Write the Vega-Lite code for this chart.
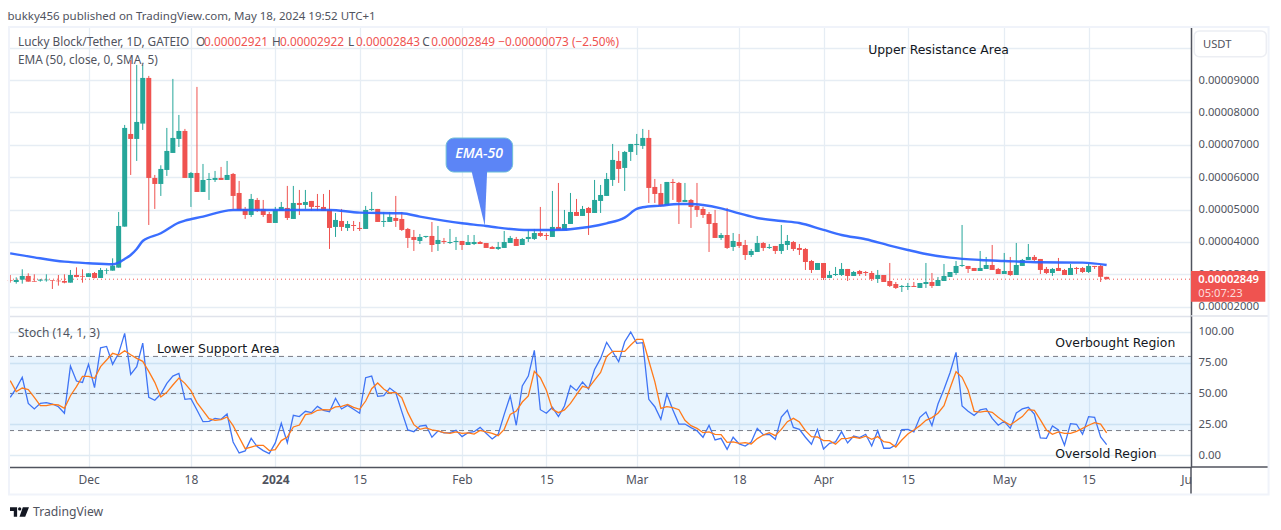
{
  "$schema": "https://vega.github.io/schema/vega-lite/v6.json",
  "background": "white",
  "padding": {"left": 5, "top": 11, "right": 0, "bottom": 4},
  "bounds": "flush",
  "spacing": 0,
  "config": {"view": {"stroke": null}, "font": "Noto Sans", "text": {"font": "Noto Sans"}},
  "datasets": {
    "candles": [
      {"d":"2023-11-18","o":2.825e-5,"h":2.979e-5,"l":2.742e-5,"c":2.804e-5,"k":46.9,"s":60.4},
      {"d":"2023-11-19","o":2.763e-5,"h":2.907e-5,"l":2.712e-5,"c":2.825e-5,"k":54.2,"s":51.5},
      {"d":"2023-11-20","o":2.835e-5,"h":3.155e-5,"l":2.712e-5,"c":2.949e-5,"k":63.1,"s":54.4},
      {"d":"2023-11-21","o":2.949e-5,"h":3.031e-5,"l":2.773e-5,"c":2.773e-5,"k":42.0,"s":53.1},
      {"d":"2023-11-22","o":2.794e-5,"h":3.0e-5,"l":2.773e-5,"c":2.773e-5,"k":37.5,"s":46.9},
      {"d":"2023-11-23","o":2.804e-5,"h":2.856e-5,"l":2.773e-5,"c":2.835e-5,"k":42.0,"s":40.2},
      {"d":"2023-11-24","o":2.815e-5,"h":3.0e-5,"l":2.773e-5,"c":2.835e-5,"k":42.6,"s":40.2},
      {"d":"2023-11-25","o":2.815e-5,"h":2.815e-5,"l":2.547e-5,"c":2.794e-5,"k":41.5,"s":41.2},
      {"d":"2023-11-26","o":2.804e-5,"h":2.979e-5,"l":2.65e-5,"c":2.784e-5,"k":39.3,"s":40.7},
      {"d":"2023-11-27","o":2.794e-5,"h":3.0e-5,"l":2.722e-5,"c":2.742e-5,"k":34.0,"s":38.0},
      {"d":"2023-11-28","o":2.742e-5,"h":3.134e-5,"l":2.742e-5,"c":2.979e-5,"k":72.2,"s":48.2},
      {"d":"2023-11-29","o":2.979e-5,"h":3.216e-5,"l":2.907e-5,"c":2.918e-5,"k":60.1,"s":55.5},
      {"d":"2023-11-30","o":2.949e-5,"h":3.155e-5,"l":2.742e-5,"c":2.928e-5,"k":59.0,"s":63.9},
      {"d":"2023-12-01","o":2.918e-5,"h":3.031e-5,"l":2.918e-5,"c":3.031e-5,"k":73.6,"s":63.9},
      {"d":"2023-12-02","o":3.041e-5,"h":3.072e-5,"l":2.876e-5,"c":2.887e-5,"k":54.7,"s":62.3},
      {"d":"2023-12-03","o":2.887e-5,"h":3.196e-5,"l":2.887e-5,"c":3.134e-5,"k":87.0,"s":71.7},
      {"d":"2023-12-04","o":3.113e-5,"h":3.185e-5,"l":3.01e-5,"c":3.134e-5,"k":88.1,"s":77.1},
      {"d":"2023-12-05","o":3.113e-5,"h":3.494e-5,"l":3.113e-5,"c":3.268e-5,"k":73.6,"s":82.5},
      {"d":"2023-12-06","o":3.206e-5,"h":4.926e-5,"l":3.206e-5,"c":4.494e-5,"k":82.5,"s":81.1},
      {"d":"2023-12-07","o":4.473e-5,"h":7.614e-5,"l":4.473e-5,"c":7.522e-5,"k":98.6,"s":84.6},
      {"d":"2023-12-08","o":7.336e-5,"h":9.62e-5,"l":6.069e-5,"c":7.182e-5,"k":65.5,"s":81.4},
      {"d":"2023-12-09","o":7.182e-5,"h":9.468e-5,"l":6.502e-5,"c":7.707e-5,"k":71.7,"s":78.4},
      {"d":"2023-12-10","o":7.656e-5,"h":9.468e-5,"l":7.46e-5,"c":9.067e-5,"k":90.8,"s":76.0},
      {"d":"2023-12-11","o":9.067e-5,"h":9.129e-5,"l":4.524e-5,"c":5.977e-5,"k":46.9,"s":67.9},
      {"d":"2023-12-12","o":5.977e-5,"h":6.069e-5,"l":5.019e-5,"c":5.791e-5,"k":44.5,"s":59.0},
      {"d":"2023-12-13","o":5.791e-5,"h":6.368e-5,"l":5.421e-5,"c":6.255e-5,"k":49.6,"s":47.2},
      {"d":"2023-12-14","o":6.224e-5,"h":7.522e-5,"l":6.039e-5,"c":6.811e-5,"k":58.2,"s":50.9},
      {"d":"2023-12-15","o":6.749e-5,"h":9.036e-5,"l":6.749e-5,"c":7.213e-5,"k":64.1,"s":56.9},
      {"d":"2023-12-16","o":7.182e-5,"h":7.923e-5,"l":6.935e-5,"c":7.429e-5,"k":66.3,"s":62.5},
      {"d":"2023-12-17","o":7.429e-5,"h":7.491e-5,"l":5.977e-5,"c":5.977e-5,"k":45.3,"s":58.2},
      {"d":"2023-12-18","o":5.977e-5,"h":6.162e-5,"l":5.081e-5,"c":6.131e-5,"k":45.8,"s":52.3},
      {"d":"2023-12-19","o":6.131e-5,"h":8.789e-5,"l":5.544e-5,"c":5.544e-5,"k":36.7,"s":42.6},
      {"d":"2023-12-20","o":5.544e-5,"h":6.409e-5,"l":5.544e-5,"c":5.915e-5,"k":27.2,"s":36.1},
      {"d":"2023-12-21","o":5.915e-5,"h":6.131e-5,"l":5.297e-5,"c":5.946e-5,"k":27.5,"s":29.6},
      {"d":"2023-12-22","o":5.915e-5,"h":6.193e-5,"l":5.853e-5,"c":5.977e-5,"k":29.9,"s":28.3},
      {"d":"2023-12-23","o":5.977e-5,"h":6.317e-5,"l":5.915e-5,"c":5.915e-5,"k":29.1,"s":28.8},
      {"d":"2023-12-24","o":5.915e-5,"h":6.502e-5,"l":5.915e-5,"c":6.069e-5,"k":33.4,"s":31.0},
      {"d":"2023-12-25","o":6.1e-5,"h":6.131e-5,"l":5.019e-5,"c":5.421e-5,"k":10.8,"s":24.0},
      {"d":"2023-12-26","o":5.513e-5,"h":5.884e-5,"l":4.988e-5,"c":4.988e-5,"k":1.9,"s":14.6},
      {"d":"2023-12-27","o":5.019e-5,"h":5.081e-5,"l":4.71e-5,"c":4.833e-5,"k":3.5,"s":5.4},
      {"d":"2023-12-28","o":4.833e-5,"h":5.482e-5,"l":4.772e-5,"c":5.328e-5,"k":13.7,"s":6.7},
      {"d":"2023-12-29","o":5.297e-5,"h":5.359e-5,"l":4.926e-5,"c":4.957e-5,"k":7.0,"s":8.1},
      {"d":"2023-12-30","o":5.019e-5,"h":5.297e-5,"l":4.772e-5,"c":4.833e-5,"k":3.8,"s":8.1},
      {"d":"2023-12-31","o":4.864e-5,"h":4.926e-5,"l":4.586e-5,"c":4.586e-5,"k":1.3,"s":3.8},
      {"d":"2024-01-01","o":4.586e-5,"h":5.081e-5,"l":4.586e-5,"c":4.988e-5,"k":10.0,"s":4.6},
      {"d":"2024-01-02","o":4.957e-5,"h":5.235e-5,"l":4.957e-5,"c":5.081e-5,"k":25.9,"s":11.9},
      {"d":"2024-01-03","o":5.05e-5,"h":5.73e-5,"l":4.679e-5,"c":4.741e-5,"k":10.2,"s":14.8},
      {"d":"2024-01-04","o":4.71e-5,"h":5.73e-5,"l":4.71e-5,"c":5.204e-5,"k":32.3,"s":22.9},
      {"d":"2024-01-05","o":5.204e-5,"h":5.606e-5,"l":4.833e-5,"c":5.142e-5,"k":31.3,"s":24.5},
      {"d":"2024-01-06","o":5.142e-5,"h":5.606e-5,"l":5.019e-5,"c":5.235e-5,"k":35.6,"s":32.9},
      {"d":"2024-01-07","o":5.266e-5,"h":5.266e-5,"l":4.957e-5,"c":5.081e-5,"k":34.5,"s":33.7},
      {"d":"2024-01-08","o":5.112e-5,"h":5.482e-5,"l":4.957e-5,"c":5.081e-5,"k":39.6,"s":36.4},
      {"d":"2024-01-09","o":5.081e-5,"h":5.482e-5,"l":4.957e-5,"c":4.957e-5,"k":36.4,"s":36.9},
      {"d":"2024-01-10","o":4.988e-5,"h":5.606e-5,"l":3.783e-5,"c":4.432e-5,"k":35.3,"s":36.7},
      {"d":"2024-01-11","o":4.463e-5,"h":4.895e-5,"l":4.154e-5,"c":4.679e-5,"k":46.1,"s":39.1},
      {"d":"2024-01-12","o":4.648e-5,"h":5.019e-5,"l":4.339e-5,"c":4.463e-5,"k":37.5,"s":39.6},
      {"d":"2024-01-13","o":4.432e-5,"h":4.648e-5,"l":4.339e-5,"c":4.555e-5,"k":40.4,"s":41.2},
      {"d":"2024-01-14","o":4.524e-5,"h":4.648e-5,"l":4.339e-5,"c":4.494e-5,"k":37.2,"s":38.8},
      {"d":"2024-01-15","o":4.432e-5,"h":4.617e-5,"l":4.339e-5,"c":4.401e-5,"k":34.0,"s":37.2},
      {"d":"2024-01-16","o":4.401e-5,"h":5.112e-5,"l":4.401e-5,"c":4.988e-5,"k":62.8,"s":43.9},
      {"d":"2024-01-17","o":4.988e-5,"h":5.544e-5,"l":4.957e-5,"c":5.019e-5,"k":64.1,"s":53.9},
      {"d":"2024-01-18","o":5.019e-5,"h":5.019e-5,"l":4.617e-5,"c":4.617e-5,"k":47.7,"s":58.5},
      {"d":"2024-01-19","o":4.617e-5,"h":4.926e-5,"l":4.463e-5,"c":4.648e-5,"k":48.2,"s":53.6},
      {"d":"2024-01-20","o":4.617e-5,"h":4.926e-5,"l":4.617e-5,"c":4.772e-5,"k":54.4,"s":50.4},
      {"d":"2024-01-21","o":4.741e-5,"h":5.421e-5,"l":4.463e-5,"c":4.648e-5,"k":50.7,"s":50.9},
      {"d":"2024-01-22","o":4.71e-5,"h":4.926e-5,"l":4.339e-5,"c":4.37e-5,"k":35.3,"s":46.6},
      {"d":"2024-01-23","o":4.401e-5,"h":4.432e-5,"l":3.814e-5,"c":4.123e-5,"k":20.5,"s":34.5},
      {"d":"2024-01-24","o":4.154e-5,"h":4.37e-5,"l":3.721e-5,"c":4.061e-5,"k":19.1,"s":24.8},
      {"d":"2024-01-25","o":4.03e-5,"h":4.246e-5,"l":3.937e-5,"c":4.154e-5,"k":23.7,"s":21.0},
      {"d":"2024-01-26","o":4.154e-5,"h":4.185e-5,"l":4.123e-5,"c":4.185e-5,"k":24.3,"s":22.1},
      {"d":"2024-01-27","o":4.185e-5,"h":4.617e-5,"l":3.69e-5,"c":3.906e-5,"k":14.6,"s":20.5},
      {"d":"2024-01-28","o":3.937e-5,"h":4.494e-5,"l":3.721e-5,"c":4.061e-5,"k":19.7,"s":19.7},
      {"d":"2024-01-29","o":4.03e-5,"h":4.123e-5,"l":3.937e-5,"c":3.999e-5,"k":18.1,"s":18.3},
      {"d":"2024-01-30","o":3.968e-5,"h":4.401e-5,"l":3.937e-5,"c":3.999e-5,"k":18.3,"s":17.8},
      {"d":"2024-01-31","o":3.999e-5,"h":4.154e-5,"l":3.752e-5,"c":4.03e-5,"k":20.2,"s":18.9},
      {"d":"2024-02-01","o":4.03e-5,"h":4.03e-5,"l":3.752e-5,"c":3.906e-5,"k":15.1,"s":17.8},
      {"d":"2024-02-02","o":3.906e-5,"h":4.215e-5,"l":3.906e-5,"c":3.999e-5,"k":18.3,"s":18.1},
      {"d":"2024-02-03","o":3.937e-5,"h":4.215e-5,"l":3.906e-5,"c":3.999e-5,"k":19.1,"s":17.2},
      {"d":"2024-02-04","o":3.999e-5,"h":4.03e-5,"l":3.937e-5,"c":3.937e-5,"k":22.6,"s":20.2},
      {"d":"2024-02-05","o":3.968e-5,"h":3.968e-5,"l":3.814e-5,"c":3.814e-5,"k":17.8,"s":18.9},
      {"d":"2024-02-06","o":3.845e-5,"h":3.876e-5,"l":3.783e-5,"c":3.783e-5,"k":13.2,"s":17.8},
      {"d":"2024-02-07","o":3.783e-5,"h":3.999e-5,"l":3.752e-5,"c":3.845e-5,"k":17.0,"s":15.9},
      {"d":"2024-02-08","o":3.814e-5,"h":4.339e-5,"l":3.814e-5,"c":3.999e-5,"k":33.1,"s":21.0},
      {"d":"2024-02-09","o":3.968e-5,"h":4.185e-5,"l":3.968e-5,"c":4.123e-5,"k":48.0,"s":33.1},
      {"d":"2024-02-10","o":4.092e-5,"h":4.154e-5,"l":3.876e-5,"c":3.876e-5,"k":24.3,"s":35.8},
      {"d":"2024-02-11","o":3.906e-5,"h":4.123e-5,"l":3.906e-5,"c":4.092e-5,"k":56.1,"s":43.1},
      {"d":"2024-02-12","o":4.092e-5,"h":4.37e-5,"l":3.999e-5,"c":4.154e-5,"k":64.1,"s":48.0},
      {"d":"2024-02-13","o":4.092e-5,"h":4.401e-5,"l":4.061e-5,"c":4.277e-5,"k":84.9,"s":67.9},
      {"d":"2024-02-14","o":4.277e-5,"h":5.081e-5,"l":4.154e-5,"c":4.185e-5,"k":36.9,"s":62.8},
      {"d":"2024-02-15","o":4.215e-5,"h":4.277e-5,"l":4.061e-5,"c":4.185e-5,"k":34.0,"s":52.6},
      {"d":"2024-02-16","o":4.154e-5,"h":5.575e-5,"l":4.154e-5,"c":4.463e-5,"k":38.8,"s":37.2},
      {"d":"2024-02-17","o":4.463e-5,"h":5.822e-5,"l":4.37e-5,"c":4.37e-5,"k":31.3,"s":34.5},
      {"d":"2024-02-18","o":4.37e-5,"h":4.988e-5,"l":4.37e-5,"c":4.555e-5,"k":39.9,"s":36.7},
      {"d":"2024-02-19","o":4.555e-5,"h":5.513e-5,"l":4.555e-5,"c":4.926e-5,"k":56.3,"s":42.0},
      {"d":"2024-02-20","o":4.926e-5,"h":5.328e-5,"l":4.803e-5,"c":4.803e-5,"k":52.3,"s":49.0},
      {"d":"2024-02-21","o":4.803e-5,"h":5.112e-5,"l":4.803e-5,"c":5.019e-5,"k":59.3,"s":55.8},
      {"d":"2024-02-22","o":5.05e-5,"h":5.081e-5,"l":4.215e-5,"c":4.895e-5,"k":53.6,"s":54.4},
      {"d":"2024-02-23","o":4.895e-5,"h":5.915e-5,"l":4.895e-5,"c":5.297e-5,"k":69.5,"s":60.9},
      {"d":"2024-02-24","o":5.266e-5,"h":5.76e-5,"l":4.895e-5,"c":5.451e-5,"k":78.4,"s":67.1},
      {"d":"2024-02-25","o":5.421e-5,"h":6.131e-5,"l":5.421e-5,"c":5.946e-5,"k":91.4,"s":80.0},
      {"d":"2024-02-26","o":5.915e-5,"h":7.027e-5,"l":5.73e-5,"c":6.533e-5,"k":83.8,"s":84.1},
      {"d":"2024-02-27","o":6.502e-5,"h":6.811e-5,"l":5.822e-5,"c":6.255e-5,"k":75.7,"s":84.1},
      {"d":"2024-02-28","o":6.286e-5,"h":6.811e-5,"l":5.575e-5,"c":6.78e-5,"k":91.9,"s":84.1},
      {"d":"2024-02-29","o":6.78e-5,"h":7.027e-5,"l":6.502e-5,"c":7.027e-5,"k":99.7,"s":89.2},
      {"d":"2024-03-01","o":6.996e-5,"h":7.336e-5,"l":6.687e-5,"c":7.027e-5,"k":90.6,"s":93.8},
      {"d":"2024-03-02","o":6.966e-5,"h":7.491e-5,"l":6.873e-5,"c":7.213e-5,"k":91.1,"s":93.8},
      {"d":"2024-03-03","o":7.213e-5,"h":7.46e-5,"l":5.204e-5,"c":5.668e-5,"k":45.3,"s":76.5},
      {"d":"2024-03-04","o":5.699e-5,"h":5.946e-5,"l":5.204e-5,"c":5.482e-5,"k":39.3,"s":59.6},
      {"d":"2024-03-05","o":5.513e-5,"h":5.791e-5,"l":5.081e-5,"c":5.112e-5,"k":29.1,"s":38.0},
      {"d":"2024-03-06","o":5.142e-5,"h":5.853e-5,"l":5.142e-5,"c":5.853e-5,"k":49.6,"s":39.3},
      {"d":"2024-03-07","o":5.853e-5,"h":5.946e-5,"l":5.297e-5,"c":5.822e-5,"k":36.7,"s":38.5},
      {"d":"2024-03-08","o":5.822e-5,"h":5.853e-5,"l":4.555e-5,"c":5.235e-5,"k":25.3,"s":36.9},
      {"d":"2024-03-09","o":5.235e-5,"h":5.822e-5,"l":5.235e-5,"c":5.297e-5,"k":25.3,"s":28.3},
      {"d":"2024-03-10","o":5.297e-5,"h":5.328e-5,"l":4.432e-5,"c":5.081e-5,"k":22.4,"s":24.0},
      {"d":"2024-03-11","o":5.112e-5,"h":5.822e-5,"l":4.772e-5,"c":4.988e-5,"k":19.9,"s":21.8},
      {"d":"2024-03-12","o":5.019e-5,"h":5.081e-5,"l":4.741e-5,"c":4.833e-5,"k":14.6,"s":18.3},
      {"d":"2024-03-13","o":4.864e-5,"h":4.926e-5,"l":3.69e-5,"c":4.555e-5,"k":24.3,"s":18.9},
      {"d":"2024-03-14","o":4.586e-5,"h":4.988e-5,"l":4.123e-5,"c":4.123e-5,"k":12.4,"s":17.0},
      {"d":"2024-03-15","o":4.123e-5,"h":4.277e-5,"l":4.061e-5,"c":4.215e-5,"k":13.7,"s":16.7},
      {"d":"2024-03-16","o":4.215e-5,"h":5.05e-5,"l":3.783e-5,"c":3.814e-5,"k":4.9,"s":10.5},
      {"d":"2024-03-17","o":3.845e-5,"h":4.277e-5,"l":3.721e-5,"c":4.03e-5,"k":14.6,"s":10.8},
      {"d":"2024-03-18","o":3.999e-5,"h":4.246e-5,"l":3.814e-5,"c":3.876e-5,"k":9.2,"s":9.7},
      {"d":"2024-03-19","o":3.906e-5,"h":4.061e-5,"l":3.443e-5,"c":3.597e-5,"k":7.5,"s":10.2},
      {"d":"2024-03-20","o":3.597e-5,"h":3.783e-5,"l":3.536e-5,"c":3.721e-5,"k":10.8,"s":9.2},
      {"d":"2024-03-21","o":3.69e-5,"h":4.185e-5,"l":3.69e-5,"c":3.968e-5,"k":21.8,"s":13.5},
      {"d":"2024-03-22","o":3.968e-5,"h":3.999e-5,"l":3.721e-5,"c":3.814e-5,"k":16.7,"s":16.4},
      {"d":"2024-03-23","o":3.814e-5,"h":3.937e-5,"l":3.783e-5,"c":3.845e-5,"k":17.0,"s":18.3},
      {"d":"2024-03-24","o":3.876e-5,"h":3.876e-5,"l":3.628e-5,"c":3.721e-5,"k":12.9,"s":15.9},
      {"d":"2024-03-25","o":3.721e-5,"h":4.524e-5,"l":3.628e-5,"c":3.937e-5,"k":31.0,"s":21.0},
      {"d":"2024-03-26","o":3.906e-5,"h":4.215e-5,"l":3.752e-5,"c":4.03e-5,"k":36.4,"s":27.2},
      {"d":"2024-03-27","o":3.999e-5,"h":4.03e-5,"l":3.721e-5,"c":3.783e-5,"k":22.6,"s":29.9},
      {"d":"2024-03-28","o":3.814e-5,"h":3.937e-5,"l":3.597e-5,"c":3.752e-5,"k":21.0,"s":26.9},
      {"d":"2024-03-29","o":3.783e-5,"h":3.814e-5,"l":3.134e-5,"c":3.381e-5,"k":14.6,"s":19.9},
      {"d":"2024-03-30","o":3.412e-5,"h":3.443e-5,"l":3.041e-5,"c":3.134e-5,"k":8.9,"s":15.1},
      {"d":"2024-03-31","o":3.134e-5,"h":3.35e-5,"l":3.134e-5,"c":3.35e-5,"k":21.0,"s":14.8},
      {"d":"2024-04-01","o":3.35e-5,"h":3.35e-5,"l":2.825e-5,"c":2.887e-5,"k":5.1,"s":11.9},
      {"d":"2024-04-02","o":2.887e-5,"h":3.103e-5,"l":2.887e-5,"c":2.979e-5,"k":9.7,"s":11.9},
      {"d":"2024-04-03","o":2.979e-5,"h":3.227e-5,"l":2.949e-5,"c":3.01e-5,"k":10.8,"s":8.9},
      {"d":"2024-04-04","o":2.979e-5,"h":3.35e-5,"l":2.949e-5,"c":3.165e-5,"k":19.1,"s":13.5},
      {"d":"2024-04-05","o":3.165e-5,"h":3.165e-5,"l":2.794e-5,"c":2.949e-5,"k":10.0,"s":13.7},
      {"d":"2024-04-06","o":2.949e-5,"h":3.103e-5,"l":2.949e-5,"c":3.072e-5,"k":15.6,"s":14.8},
      {"d":"2024-04-07","o":3.103e-5,"h":3.134e-5,"l":2.949e-5,"c":3.01e-5,"k":14.3,"s":13.7},
      {"d":"2024-04-08","o":3.072e-5,"h":3.103e-5,"l":2.949e-5,"c":3.041e-5,"k":17.0,"s":15.4},
      {"d":"2024-04-09","o":3.041e-5,"h":3.103e-5,"l":2.794e-5,"c":2.856e-5,"k":7.5,"s":12.9},
      {"d":"2024-04-10","o":2.856e-5,"h":3.134e-5,"l":2.732e-5,"c":2.979e-5,"k":19.9,"s":15.1},
      {"d":"2024-04-11","o":2.979e-5,"h":2.979e-5,"l":2.763e-5,"c":2.763e-5,"k":5.7,"s":11.0},
      {"d":"2024-04-12","o":2.794e-5,"h":3.35e-5,"l":2.609e-5,"c":2.64e-5,"k":5.7,"s":10.2},
      {"d":"2024-04-13","o":2.701e-5,"h":2.763e-5,"l":2.547e-5,"c":2.578e-5,"k":8.4,"s":6.7},
      {"d":"2024-04-14","o":2.609e-5,"h":2.67e-5,"l":2.454e-5,"c":2.64e-5,"k":20.8,"s":12.4},
      {"d":"2024-04-15","o":2.609e-5,"h":2.732e-5,"l":2.516e-5,"c":2.64e-5,"k":21.0,"s":17.2},
      {"d":"2024-04-16","o":2.64e-5,"h":2.763e-5,"l":2.609e-5,"c":2.609e-5,"k":18.9,"s":20.5},
      {"d":"2024-04-17","o":2.578e-5,"h":2.732e-5,"l":2.578e-5,"c":2.732e-5,"k":30.7,"s":24.0},
      {"d":"2024-04-18","o":2.701e-5,"h":3.35e-5,"l":2.578e-5,"c":2.763e-5,"k":35.0,"s":28.3},
      {"d":"2024-04-19","o":2.763e-5,"h":3.041e-5,"l":2.578e-5,"c":2.64e-5,"k":24.0,"s":30.5},
      {"d":"2024-04-20","o":2.64e-5,"h":2.918e-5,"l":2.64e-5,"c":2.825e-5,"k":41.5,"s":34.0},
      {"d":"2024-04-21","o":2.794e-5,"h":3.319e-5,"l":2.794e-5,"c":2.949e-5,"k":53.4,"s":40.2},
      {"d":"2024-04-22","o":2.918e-5,"h":3.072e-5,"l":2.918e-5,"c":3.072e-5,"k":66.8,"s":54.2},
      {"d":"2024-04-23","o":3.041e-5,"h":3.412e-5,"l":2.979e-5,"c":3.258e-5,"k":83.3,"s":67.6},
      {"d":"2024-04-24","o":3.258e-5,"h":4.524e-5,"l":3.227e-5,"c":3.288e-5,"k":39.9,"s":63.1},
      {"d":"2024-04-25","o":3.258e-5,"h":3.258e-5,"l":3.041e-5,"c":3.165e-5,"k":35.6,"s":52.8},
      {"d":"2024-04-26","o":3.196e-5,"h":3.196e-5,"l":3.103e-5,"c":3.103e-5,"k":32.3,"s":35.6},
      {"d":"2024-04-27","o":3.103e-5,"h":3.721e-5,"l":3.103e-5,"c":3.196e-5,"k":36.7,"s":35.0},
      {"d":"2024-04-28","o":3.165e-5,"h":3.536e-5,"l":3.165e-5,"c":3.288e-5,"k":37.7,"s":35.8},
      {"d":"2024-04-29","o":3.288e-5,"h":3.906e-5,"l":3.134e-5,"c":3.134e-5,"k":29.9,"s":34.8},
      {"d":"2024-04-30","o":3.165e-5,"h":3.196e-5,"l":3.01e-5,"c":3.01e-5,"k":24.3,"s":30.7},
      {"d":"2024-05-01","o":3.01e-5,"h":3.659e-5,"l":3.01e-5,"c":3.103e-5,"k":27.5,"s":27.2},
      {"d":"2024-05-02","o":3.103e-5,"h":3.536e-5,"l":2.949e-5,"c":2.979e-5,"k":21.8,"s":24.5},
      {"d":"2024-05-03","o":2.979e-5,"h":3.968e-5,"l":2.979e-5,"c":3.288e-5,"k":34.2,"s":28.0},
      {"d":"2024-05-04","o":3.258e-5,"h":3.474e-5,"l":3.258e-5,"c":3.443e-5,"k":37.5,"s":31.3},
      {"d":"2024-05-05","o":3.443e-5,"h":3.937e-5,"l":3.443e-5,"c":3.536e-5,"k":38.8,"s":36.9},
      {"d":"2024-05-06","o":3.536e-5,"h":3.597e-5,"l":3.412e-5,"c":3.443e-5,"k":33.4,"s":36.4},
      {"d":"2024-05-07","o":3.474e-5,"h":3.474e-5,"l":3.01e-5,"c":3.134e-5,"k":14.0,"s":28.6},
      {"d":"2024-05-08","o":3.165e-5,"h":3.227e-5,"l":3.01e-5,"c":3.041e-5,"k":13.7,"s":20.5},
      {"d":"2024-05-09","o":3.041e-5,"h":3.196e-5,"l":2.949e-5,"c":3.165e-5,"k":23.7,"s":17.0},
      {"d":"2024-05-10","o":3.196e-5,"h":3.505e-5,"l":3.103e-5,"c":3.103e-5,"k":20.5,"s":18.9},
      {"d":"2024-05-11","o":3.134e-5,"h":3.165e-5,"l":2.979e-5,"c":2.979e-5,"k":8.1,"s":17.8},
      {"d":"2024-05-12","o":2.979e-5,"h":3.319e-5,"l":2.979e-5,"c":3.196e-5,"k":25.6,"s":17.8},
      {"d":"2024-05-13","o":3.196e-5,"h":3.227e-5,"l":3.01e-5,"c":3.165e-5,"k":25.1,"s":19.4},
      {"d":"2024-05-14","o":3.196e-5,"h":3.227e-5,"l":3.041e-5,"c":3.072e-5,"k":17.0,"s":21.8},
      {"d":"2024-05-15","o":3.072e-5,"h":3.319e-5,"l":3.041e-5,"c":3.258e-5,"k":31.3,"s":24.3},
      {"d":"2024-05-16","o":3.258e-5,"h":3.258e-5,"l":3.165e-5,"c":3.227e-5,"k":30.7,"s":26.4},
      {"d":"2024-05-17","o":3.258e-5,"h":3.288e-5,"l":2.763e-5,"c":2.922e-5,"k":14.8,"s":25.3},
      {"d":"2024-05-18","o":2.921e-5,"h":2.922e-5,"l":2.843e-5,"c":2.849e-5,"k":8.6,"s":18.1}
    ],
    "ema": [
      {"d":"2023-11-18","v":3.649e-5},{"d":"2023-11-22","v":3.525e-5},{"d":"2023-11-27","v":3.391e-5},{"d":"2023-12-01","v":3.34e-5},
      {"d":"2023-12-05","v":3.309e-5},{"d":"2023-12-06","v":3.361e-5},{"d":"2023-12-07","v":3.474e-5},{"d":"2023-12-08","v":3.597e-5},
      {"d":"2023-12-09","v":3.783e-5},{"d":"2023-12-10","v":4.03e-5},{"d":"2023-12-13","v":4.267e-5},{"d":"2023-12-16","v":4.597e-5},
      {"d":"2023-12-17","v":4.658e-5},{"d":"2023-12-20","v":4.782e-5},{"d":"2023-12-24","v":4.967e-5},{"d":"2023-12-25","v":4.988e-5},
      {"d":"2024-01-10","v":4.988e-5},{"d":"2024-01-15","v":4.906e-5},{"d":"2024-01-22","v":4.885e-5},{"d":"2024-01-25","v":4.782e-5},
      {"d":"2024-02-01","v":4.576e-5},{"d":"2024-02-05","v":4.494e-5},{"d":"2024-02-07","v":4.442e-5},{"d":"2024-02-12","v":4.37e-5},
      {"d":"2024-02-16","v":4.37e-5},{"d":"2024-02-22","v":4.463e-5},{"d":"2024-02-25","v":4.576e-5},{"d":"2024-02-28","v":4.751e-5},
      {"d":"2024-03-01","v":5.019e-5},{"d":"2024-03-02","v":5.07e-5},{"d":"2024-03-05","v":5.122e-5},{"d":"2024-03-08","v":5.173e-5},
      {"d":"2024-03-10","v":5.173e-5},{"d":"2024-03-12","v":5.142e-5},{"d":"2024-03-15","v":5.039e-5},{"d":"2024-03-18","v":4.885e-5},
      {"d":"2024-03-21","v":4.741e-5},{"d":"2024-03-25","v":4.648e-5},{"d":"2024-03-28","v":4.586e-5},{"d":"2024-04-01","v":4.37e-5},
      {"d":"2024-04-04","v":4.215e-5},{"d":"2024-04-08","v":4.082e-5},{"d":"2024-04-12","v":3.886e-5},{"d":"2024-04-15","v":3.752e-5},
      {"d":"2024-04-18","v":3.628e-5},{"d":"2024-04-22","v":3.515e-5},{"d":"2024-04-27","v":3.443e-5},{"d":"2024-05-01","v":3.412e-5},
      {"d":"2024-05-07","v":3.371e-5},{"d":"2024-05-14","v":3.361e-5},{"d":"2024-05-18","v":3.288e-5}
    ]
  },
  "vconcat": [
    {
      "width": 1182,
      "height": 289,
      "encoding": {
        "x": {
          "field": "d",
          "type": "temporal",
          "title": null,
          "scale": {
            "type": "utc",
            "nice": false,
            "padding": 0,
            "domain": [
              {"year":2023,"month":11,"date":17,"hours":19,"minutes":12,"utc":true},
              {"year":2024,"month":6,"date":1,"utc":true}
            ]
          },
          "axis": {
            "values": [
              {"year":2023,"month":12,"date":1,"utc":true},{"year":2023,"month":12,"date":18,"utc":true},
              {"year":2024,"month":1,"date":1,"utc":true},{"year":2024,"month":1,"date":15,"utc":true},
              {"year":2024,"month":2,"date":1,"utc":true},{"year":2024,"month":2,"date":15,"utc":true},
              {"year":2024,"month":3,"date":1,"utc":true},{"year":2024,"month":3,"date":18,"utc":true},
              {"year":2024,"month":4,"date":1,"utc":true},{"year":2024,"month":4,"date":15,"utc":true},
              {"year":2024,"month":5,"date":1,"utc":true},{"year":2024,"month":5,"date":15,"utc":true}
            ],
            "labels": false,
            "ticks": false,
            "grid": true,
            "gridColor": "#e6edf4",
            "gridWidth": 1.3,
            "domainColor": "#e0e3eb",
            "domainWidth": 1.5,
            "title": null
          }
        }
      },
      "layer": [
        {
          "data": {"values": [
            {"d":"2023-11-17T19:12:00Z","v":2.849e-5},{"d":"2024-06-01T00:00:00Z","v":2.849e-5}
          ]},
          "mark": {"type": "line", "color": "#ef5350", "strokeWidth": 1, "strokeDash": [1, 3]},
          "encoding": {
            "y": {
              "field": "v",
              "type": "quantitative",
              "title": null,
              "scale": {"domain": [1.712e-5, 10.64e-5], "nice": false, "zero": false},
              "axis": {
                "orient": "right",
                "values": [2e-5, 3e-5, 4e-5, 5e-5, 6e-5, 7e-5, 8e-5, 9e-5, 10e-5],
                "tickCount": 20,
                "labelExpr": "datum.value > 9.5e-5 ? '' : format(datum.value, '.8f')",
                "labelOverlap": false,
                "labelFlush": false,
                "labelBound": false,
                "ticks": false,
                "grid": true,
                "gridColor": "#e6edf4",
                "gridWidth": 1.3,
                "domainColor": "#50535e",
                "domainWidth": 1.5,
                "labelColor": "#50535e",
                "labelFont": "Noto Sans",
                "labelFontSize": 11.2,
                "labelPadding": 7,
                "title": null
              }
            }
          }
        },
        {
          "data": {"name": "candles"},
          "mark": {"type": "rule", "strokeWidth": 1},
          "encoding": {
            "y": {"field": "l", "type": "quantitative"},
            "y2": {"field": "h"},
            "color": {"condition": {"test": "datum.c >= datum.o", "value": "#26a69a"}, "value": "#ef5350"}
          }
        },
        {
          "data": {"name": "candles"},
          "mark": {"type": "bar", "width": 5},
          "encoding": {
            "y": {"field": "o", "type": "quantitative"},
            "y2": {"field": "c"},
            "color": {"condition": {"test": "datum.c >= datum.o", "value": "#26a69a"}, "value": "#ef5350"}
          }
        },
        {
          "data": {"name": "ema"},
          "mark": {"type": "line", "color": "#2962ff", "strokeWidth": 2.4, "interpolate": "monotone", "opacity": 0.92},
          "encoding": {"y": {"field": "v", "type": "quantitative"}}
        },
        {
          "data": {"values": [
            {"d":"2024-01-29T08:38:00Z","d2":"2024-02-09T09:36:00Z","v":7.21e-5,"v2":6.16e-5}
          ]},
          "mark": {"type": "rect", "color": "#5c85f6", "cornerRadius": 8, "stroke": "#6dbfd6", "strokeWidth": 1},
          "encoding": {
            "x2": {"field": "d2"},
            "y": {"field": "v", "type": "quantitative"},
            "y2": {"field": "v2"}
          }
        },
        {
          "data": {"values": [
            {"d":"2024-02-02T13:26:00Z","v":6.2e-5,"v2":6.2e-5},
            {"d":"2024-02-04T18:43:00Z","v":6.2e-5,"v2":4.49e-5},
            {"d":"2024-02-05T04:00:00Z","v":6.2e-5,"v2":6.2e-5}
          ]},
          "mark": {"type": "area", "color": "#5c85f6"},
          "encoding": {
            "y": {"field": "v", "type": "quantitative"},
            "y2": {"field": "v2"}
          }
        },
        {
          "data": {"values": [{"d":"2024-02-03T20:00:00Z","v":6.716e-5,"t":"EMA-50"}]},
          "mark": {"type": "text", "color": "white", "font": "Open Sans", "fontSize": 14, "fontStyle": "italic", "fontWeight": 600},
          "encoding": {"y": {"field": "v", "type": "quantitative"}, "text": {"field": "t"}}
        },
        {
          "data": {"values": [
            {"d":"2023-11-17T13:12:00Z","v":10.94e-5,"t":"bukky456 published on TradingView.com, May 18, 2024 19:52 UTC+1"}
          ]},
          "mark": {"type": "text", "color": "#50535e", "align": "left", "fontSize": 11.5},
          "encoding": {"y": {"field": "v", "type": "quantitative"}, "text": {"field": "t"}}
        },
        {
          "data": {"values": [
            {"d":"2023-11-19T07:00:00Z","v":10.18e-5,"t":"Lucky Block/Tether, 1D, GATEIO"},
            {"d":"2023-11-19T07:00:00Z","v":9.63e-5,"t":"EMA (50, close, 0, SMA, 5)"},
            {"d":"2023-12-18T20:00:00Z","v":10.18e-5,"t":"O"},
            {"d":"2023-12-31T11:00:00Z","v":10.18e-5,"t":"H"},
            {"d":"2024-01-13T02:00:00Z","v":10.18e-5,"t":"L"},
            {"d":"2024-01-25T09:00:00Z","v":10.18e-5,"t":"C"}
          ]},
          "mark": {"type": "text", "color": "#50535e", "align": "left", "fontSize": 11.8},
          "encoding": {"y": {"field": "v", "type": "quantitative"}, "text": {"field": "t"}}
        },
        {
          "data": {"values": [
            {"d":"2023-12-20T04:00:00Z","v":10.18e-5,"t":"0.00002921"},
            {"d":"2024-01-01T19:00:00Z","v":10.18e-5,"t":"0.00002922"},
            {"d":"2024-01-14T10:00:00Z","v":10.18e-5,"t":"0.00002843"},
            {"d":"2024-01-26T21:00:00Z","v":10.18e-5,"t":"0.00002849"},
            {"d":"2024-02-07T00:00:00Z","v":10.18e-5,"t":"−0.00000073 (−2.50%)"}
          ]},
          "mark": {"type": "text", "color": "#ef5350", "align": "left", "fontSize": 11.8},
          "encoding": {"y": {"field": "v", "type": "quantitative"}, "text": {"field": "t"}}
        },
        {
          "data": {"values": [{"d":"2024-04-08T10:00:00Z","v":9.93e-5,"t":"Upper Resistance Area"}]},
          "mark": {"type": "text", "color": "#131722", "align": "left", "font": "DejaVu Sans", "fontSize": 12.4},
          "encoding": {"y": {"field": "v", "type": "quantitative"}, "text": {"field": "t"}}
        },
        {
          "data": {"values": [
            {"d":"2024-06-01T00:00:00Z","d2":"2024-06-13T08:00:00Z","v":3.102e-5,"v2":2.154e-5}
          ]},
          "mark": {"type": "rect", "color": "#ef5350"},
          "encoding": {
            "x2": {"field": "d2"},
            "y": {"field": "v", "type": "quantitative"},
            "y2": {"field": "v2"}
          }
        },
        {
          "data": {"values": [{"d":"2024-06-02T05:00:00Z","v":2.825e-5,"t":"0.00002849"}]},
          "mark": {"type": "text", "color": "white", "align": "left", "fontSize": 11.2, "fontWeight": 600},
          "encoding": {"y": {"field": "v", "type": "quantitative"}, "text": {"field": "t"}}
        },
        {
          "data": {"values": [{"d":"2024-06-02T05:00:00Z","v":2.392e-5,"t":"05:07:23"}]},
          "mark": {"type": "text", "color": "#fcdcdb", "align": "left", "fontSize": 11.2},
          "encoding": {"y": {"field": "v", "type": "quantitative"}, "text": {"field": "t"}}
        },
        {
          "data": {"values": [
            {"d":"2024-06-01T13:00:00Z","d2":"2024-06-13T12:00:00Z","v":10.52e-5,"v2":9.72e-5}
          ]},
          "mark": {"type": "rect", "color": "white", "stroke": "#eceef3", "strokeWidth": 1.5, "cornerRadius": 5},
          "encoding": {
            "x2": {"field": "d2"},
            "y": {"field": "v", "type": "quantitative"},
            "y2": {"field": "v2"}
          }
        },
        {
          "data": {"values": [{"d":"2024-06-03T00:00:00Z","v":10.084e-5,"t":"USDT"}]},
          "mark": {"type": "text", "color": "#50535e", "align": "left", "fontSize": 11.2},
          "encoding": {"y": {"field": "v", "type": "quantitative"}, "text": {"field": "t"}}
        },
        {
          "data": {"values": [
            {"d":"2024-06-01T00:00:00Z","v":1.712e-5},{"d":"2024-06-13T21:00:00Z","v":1.712e-5}
          ]},
          "mark": {"type": "line", "color": "#e0e3eb", "strokeWidth": 1.5},
          "encoding": {"y": {"field": "v", "type": "quantitative"}}
        },
        {
          "data": {"values": [
            {"d":"2023-11-17T19:12:00Z","v":1.712e-5},{"d":"2023-11-17T19:12:00Z","v":10.64e-5},
            {"d":"2024-06-13T21:00:00Z","v":10.64e-5},{"d":"2024-06-13T21:00:00Z","v":1.712e-5}
          ]},
          "mark": {"type": "line", "color": "#f0f3fa", "strokeWidth": 2},
          "encoding": {"y": {"field": "v", "type": "quantitative"}, "order": {"value": null}}
        }
      ]
    },
    {
      "width": 1182,
      "height": 151,
      "encoding": {
        "x": {
          "field": "d",
          "type": "temporal",
          "title": null,
          "scale": {
            "type": "utc",
            "nice": false,
            "padding": 0,
            "domain": [
              {"year":2023,"month":11,"date":17,"hours":19,"minutes":12,"utc":true},
              {"year":2024,"month":6,"date":1,"utc":true}
            ]
          },
          "axis": {
            "values": [
              {"year":2023,"month":12,"date":1,"utc":true},{"year":2023,"month":12,"date":18,"utc":true},
              {"year":2024,"month":1,"date":1,"utc":true},{"year":2024,"month":1,"date":15,"utc":true},
              {"year":2024,"month":2,"date":1,"utc":true},{"year":2024,"month":2,"date":15,"utc":true},
              {"year":2024,"month":3,"date":1,"utc":true},{"year":2024,"month":3,"date":18,"utc":true},
              {"year":2024,"month":4,"date":1,"utc":true},{"year":2024,"month":4,"date":15,"utc":true},
              {"year":2024,"month":5,"date":1,"utc":true},{"year":2024,"month":5,"date":15,"utc":true},
              {"year":2024,"month":6,"date":1,"utc":true}
            ],
            "labelExpr": "utcdate(datum.value) == 1 ? (utcmonth(datum.value) == 0 ? '2024' : utcmonth(datum.value) == 5 ? 'Ju' : utcFormat(datum.value, '%b')) : utcFormat(datum.value, '%-d')",
            "labelFontWeight": {"condition": {"test": "utcmonth(datum.value) == 0 && utcdate(datum.value) == 1", "value": 700}, "value": 400},
            "labelOffset": {"condition": {"test": "utcmonth(datum.value) == 5", "value": -5}, "value": 0},
            "labelOverlap": false,
            "labelFlush": false,
            "labelBound": false,
            "labelColor": "#50535e",
            "labelFontSize": 12,
            "labelPadding": 7.5,
            "ticks": false,
            "grid": true,
            "gridColor": "#e6edf4",
            "gridWidth": 1.3,
            "domainColor": "#50535e",
            "domainWidth": 1.5,
            "title": null
          }
        }
      },
      "layer": [
        {
          "data": {"values": [
            {"d":"2023-11-17T19:12:00Z","a":20,"b":80},{"d":"2024-06-01T00:00:00Z","a":20,"b":80}
          ]},
          "mark": {"type": "area", "color": "#2196f3", "opacity": 0.1},
          "encoding": {
            "y": {
              "field": "a",
              "type": "quantitative",
              "title": null,
              "scale": {"domain": [-9.47, 112.7], "nice": false, "zero": false},
              "axis": {
                "orient": "right",
                "values": [0, 25, 50, 75, 100],
                "tickCount": 20,
                "format": ".2f",
                "labelOverlap": false,
                "labelFlush": false,
                "labelBound": false,
                "ticks": false,
                "grid": true,
                "gridColor": "#e0ebf3",
                "gridWidth": 1.3,
                "domainColor": "#50535e",
                "domainWidth": 1.5,
                "labelColor": "#50535e",
                "labelFontSize": 11.4,
                "labelPadding": 7,
                "title": null
              }
            },
            "y2": {"field": "b"}
          }
        },
        {
          "data": {"values": [
            {"d":"2023-11-17T19:12:00Z","v":80},{"d":"2024-06-01T00:00:00Z","v":80},
            {"d":"2023-11-17T19:12:00Z","v":50},{"d":"2024-06-01T00:00:00Z","v":50},
            {"d":"2023-11-17T19:12:00Z","v":20},{"d":"2024-06-01T00:00:00Z","v":20}
          ]},
          "mark": {"type": "line", "color": "#787b86", "strokeWidth": 1, "strokeDash": [5, 4]},
          "encoding": {"y": {"field": "v", "type": "quantitative"}, "detail": {"field": "v"}}
        },
        {
          "data": {"name": "candles"},
          "mark": {"type": "line", "color": "#3f74f5", "strokeWidth": 1.3},
          "encoding": {"y": {"field": "k", "type": "quantitative"}}
        },
        {
          "data": {"name": "candles"},
          "mark": {"type": "line", "color": "#ff7a1a", "strokeWidth": 1.3},
          "encoding": {"y": {"field": "s", "type": "quantitative"}}
        },
        {
          "data": {"values": [
            {"d":"2023-12-12T09:00:00Z","v":86.0,"t":"Lower Support Area"},
            {"d":"2024-05-09T11:00:00Z","v":90.9,"t":"Overbought Region"},
            {"d":"2024-05-09T11:00:00Z","v":1.1,"t":"Oversold Region"}
          ]},
          "mark": {"type": "text", "color": "#131722", "align": "left", "font": "DejaVu Sans", "fontSize": 12.4},
          "encoding": {"y": {"field": "v", "type": "quantitative"}, "text": {"field": "t"}}
        },
        {
          "data": {"values": [{"d":"2023-11-19T07:00:00Z","v":99.0,"t":"Stoch (14, 1, 3)"}]},
          "mark": {"type": "text", "color": "#50535e", "align": "left", "fontSize": 12},
          "encoding": {"y": {"field": "v", "type": "quantitative"}, "text": {"field": "t"}}
        },
        {
          "data": {"values": [{"d":"2023-11-21T19:00:00Z","v":-45.9,"t":"TradingView"}]},
          "mark": {"type": "text", "color": "#50535e", "align": "left", "fontSize": 12.2},
          "encoding": {"y": {"field": "v", "type": "quantitative"}, "text": {"field": "t"}}
        },
        {
          "data": {"values": [{"d":"2023-11-19T13:00:00Z","v":-45.9}]},
          "mark": {"type": "point", "filled": true, "color": "#131722", "opacity": 1, "size": 361, "shape": "M-1 -.5H-.25V.5H-.6V-.1H-1Z M.02 -.5a.17.17 0 1 0 .001 0Z M.35 -.5H1L.6 .5H0Z"},
          "encoding": {"y": {"field": "v", "type": "quantitative"}}
        },
        {
          "data": {"values": [
            {"d":"2024-06-01T00:00:00Z","v":-9.47},{"d":"2024-06-13T21:00:00Z","v":-9.47}
          ]},
          "mark": {"type": "line", "color": "#50535e", "strokeWidth": 1.5},
          "encoding": {"y": {"field": "v", "type": "quantitative"}}
        },
        {
          "data": {"values": [
            {"d":"2024-06-01T00:00:00Z","v":-9.47},{"d":"2024-06-01T00:00:00Z","v":-31.7}
          ]},
          "mark": {"type": "line", "color": "#50535e", "strokeWidth": 1.5},
          "encoding": {"y": {"field": "v", "type": "quantitative"}, "order": {"value": null}}
        },
        {
          "data": {"values": [
            {"d":"2023-11-17T19:12:00Z","v":112.7},{"d":"2023-11-17T19:12:00Z","v":-31.7},
            {"d":"2024-06-13T21:00:00Z","v":-31.7},{"d":"2024-06-13T21:00:00Z","v":112.7}
          ]},
          "mark": {"type": "line", "color": "#f0f3fa", "strokeWidth": 2},
          "encoding": {"y": {"field": "v", "type": "quantitative"}, "order": {"value": null}}
        }
      ]
    }
  ]
}
